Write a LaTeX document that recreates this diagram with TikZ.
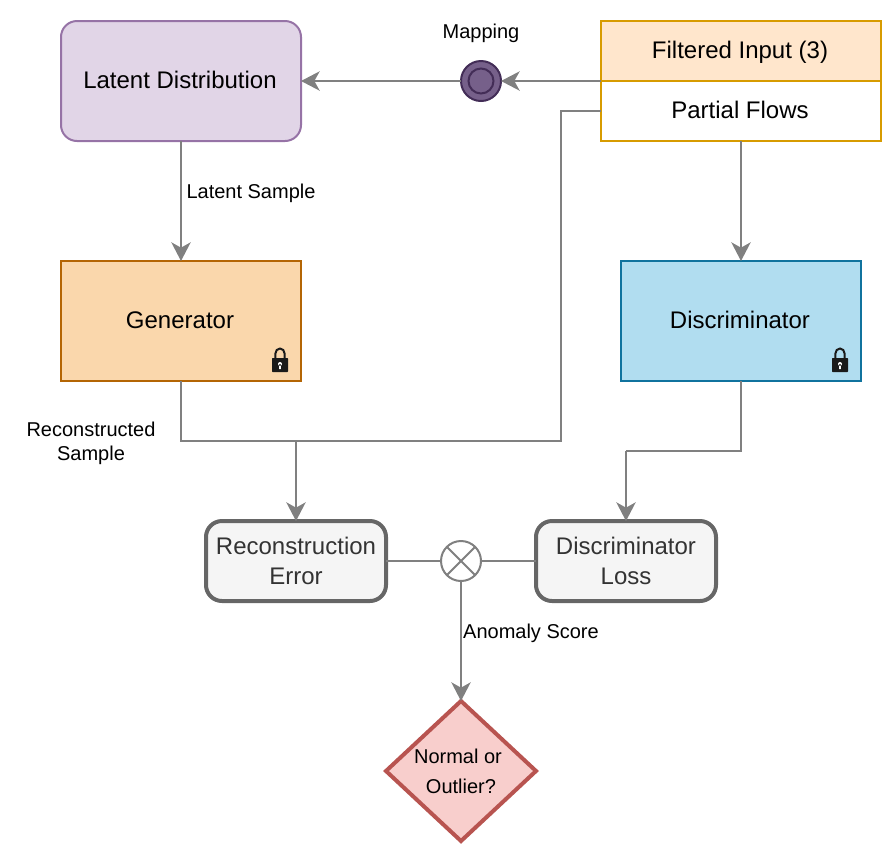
\documentclass[tikz,border=0pt]{standalone}
\usepackage{fontspec}
\setmainfont{Liberation Sans}
\usetikzlibrary{arrows.meta,positioning,shapes.geometric}
\definecolor{latentfill}{HTML}{E1D5E7}
\definecolor{latentline}{HTML}{9673A6}
\definecolor{inputfill}{HTML}{FFE6CC}
\definecolor{inputline}{HTML}{D79B00}
\definecolor{genfill}{HTML}{FAD7AC}
\definecolor{genline}{HTML}{B46504}
\definecolor{discfill}{HTML}{B1DDF0}
\definecolor{discline}{HTML}{10739E}
\definecolor{lossfill}{HTML}{F5F5F5}
\definecolor{lossline}{HTML}{666666}
\definecolor{losstext}{HTML}{333333}
\definecolor{decisionfill}{HTML}{F8CECC}
\definecolor{decisionline}{HTML}{B85450}
\definecolor{mapfill}{HTML}{76608A}
\definecolor{mapline}{HTML}{432D57}
\definecolor{flow}{HTML}{808080}
\definecolor{lockdark}{HTML}{1A1A1A}

\begin{document}
\begin{tikzpicture}[x=0.75pt, y=-0.75pt]
      \tikzstyle{main}=[rectangle, minimum width = 180pt, minimum height = 90pt, outer sep = 0pt, line width = 1.5pt, text height = 14pt, text depth = 2.4pt, execute at end node = {\kern1.5pt}, font = \fontsize{18}{22}\selectfont]
      \tikzstyle{latent}=[main, rounded corners = 12pt, draw = latentline, fill = latentfill]
      \tikzstyle{inputrow}=[main, minimum width = 210pt, minimum height = 45pt, draw = inputline]
      \tikzstyle{gen}=[main, draw = genline, fill = genfill]
      \tikzstyle{disc}=[main, draw = discline, fill = discfill]
      \tikzstyle{loss}=[rectangle, rounded corners = 12pt, minimum width = 135pt, minimum height = 60pt, outer sep = 0pt, line width = 3pt, draw = lossline, fill = lossfill, text = losstext, align = center, font = \fontsize{18}{22.5}\selectfont]
      \tikzstyle{decision}=[diamond, minimum width = 112.5pt, minimum height = 105pt, inner sep = 0pt, outer sep = 0pt, line width = 3pt, draw = decisionline, fill = decisionfill, align = center, font = \fontsize{15}{22.5}\selectfont]
      \tikzstyle{mapper}=[circle, minimum size = 30pt, inner sep = 0pt, outer sep = 0pt, line width = 1.5pt, draw = mapline, fill = mapfill]
      \tikzstyle{mapperin}=[circle, minimum size = 18.75pt, inner sep = 0pt, line width = 1.5pt, draw = mapline]
      \tikzstyle{xor}=[circle, minimum size = 30pt, inner sep = 0pt, outer sep = 0pt, line width = 1.5pt, draw = flow, fill = white, path picture = {
        \draw[flow, line width = 1.5pt] (path picture bounding box.south west) -- (path picture bounding box.north east)
          (path picture bounding box.north west) -- (path picture bounding box.south east);}]
      \tikzstyle{tag}=[inner sep = 0pt, align = center, font = \fontsize{15}{18}\selectfont]
      \tikzstyle{connect}=[-{Stealth[length=14pt, width=14.5pt, inset=4pt]}, line width = 1.5pt, draw = flow, fill = flow]
      \tikzstyle{plain}=[line width = 1.5pt, draw = flow]
      \tikzset{padlock/.pic={
        \draw[lockdark, line width = 1.5pt] (-4.6,-1) -- (-4.6,-6.5) arc (180:360:4.6 and 5) -- (4.6,-1);
        \fill[lockdark, rounded corners = 0.5pt] (-8,-2) rectangle (8,12);
        \fill[white] (0,4) circle (2) (-0.9,4) rectangle (0.9,9);
      }}

      \useasboundingbox (0,0) rectangle (882,844);

      \node[latent] (latent) at (181,81) {Latent Distribution};
      \node[gen] (generator) [below=90pt of latent] {Generator};
      \node[inputrow, fill = inputfill] (filtered) at (741,51) {Filtered Input (3)};
      \node[inputrow, fill = white] (partial) [below=0pt of filtered] {Partial Flows};
      \node[disc] (discriminator) at (741,321) {Discriminator};
      \node[mapper] (mapping) at (481,81) {};
      \node[mapperin] (mappingin) at (mapping) {};
      \node[loss] (recon) at (296,561) {Reconstruction\\Error};
      \node[xor] (combine) [right=41.25pt of recon] {};
      \node[loss] (disclos) [right=41.25pt of combine] {Discriminator\\Loss};
      \node[decision] (verdict) at (461,771) {Normal or\hspace*{4.5pt}\\Outlier?};

      \node[tag] (maplabel) at (481,33) {Mapping};
      \node[tag] (samplelabel) at (251,193) {Latent Sample};
      \node[tag] (reconlabel) at (91,443) {Reconstructed\\Sample};
      \node[tag] (scorelabel) at (531,633) {Anomaly Score};

      \pic at (280,360) {padlock};
      \pic at (840,360) {padlock};

      \coordinate (merge) at (296,441);
      \coordinate (flowturn) at (561,441);
      \coordinate (lossturn) at (626,451);

      \path (filtered.south west) edge [connect] (mapping)
            (mapping) edge [connect] (latent)
            (latent) edge [connect] (generator)
            (partial.south) edge [connect] (discriminator);

      \path (recon) edge [plain] (combine)
            (disclos) edge [plain] (combine);
      \path (combine) edge [connect] (verdict);

      \draw[plain] (generator.south) |- (merge);
      \draw[plain] (partial.west) -| (flowturn) -- (merge);
      \path (merge) edge [connect] (recon);

      \draw[plain] (discriminator.south) |- (lossturn);
      \path (lossturn) edge [connect] (disclos);
    \end{tikzpicture}
\end{document}
